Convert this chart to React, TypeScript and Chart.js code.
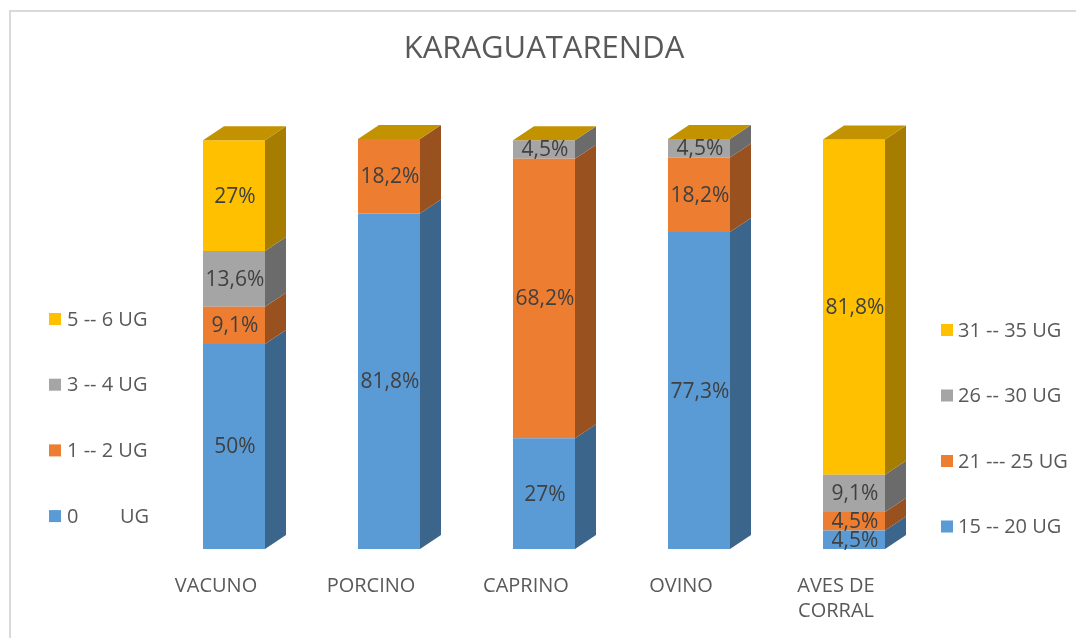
import React, { useEffect, useRef } from "react";
import { Chart, registerables } from "chart.js";

Chart.register(...registerables);

// ---- data ----
const TITLE = "KARAGUATARENDA";
const CATEGORIES: (string | string[])[] = ["VACUNO", "PORCINO", "CAPRINO", "OVINO", ["AVES DE", "CORRAL"]];
const LEFT_LEGEND = ["0        UG", "1 -- 2 UG", "3 -- 4 UG", "5 -- 6 UG"];
const RIGHT_LEGEND = ["15 -- 20 UG", "21 --- 25 UG", "26 -- 30 UG", "31 -- 35 UG"];
const SERIES_1 = [50, 81.8, 27, 77.3, 4.5];
const SERIES_2 = [9.1, 18.2, 68.2, 18.2, 4.5];
const SERIES_3 = [13.6, 0, 4.5, 4.5, 9.1];
const SERIES_4 = [27, 0, 0, 0, 81.8];

// ---- styles ----
const FRONT_COLORS = ["#5B9BD5", "#ED7D31", "#A5A5A5", "#FFC000"];
const SIDE_COLORS = ["#3B658A", "#9A5120", "#6B6B6B", "#A67D00"];
const TOP_COLOR = "#C29200";
const FONT = "'Open Sans', 'DejaVu Sans', sans-serif";

const fmt = (v: number) => String(v).replace(".", ",") + "%";

const depthPlugin = {
  id: "depth3d",
  afterDatasetsDraw(chart: any) {
    const ctx = chart.ctx as CanvasRenderingContext2D;
    const dx = 21;
    const dy = 14;
    const n = chart.data.labels.length;
    const tops: { y: number; l: number; r: number }[] = [];
    for (let i = 0; i < n; i++) tops.push({ y: Infinity, l: 0, r: 0 });
    const metas = chart.getSortedVisibleDatasetMetas();
    ctx.save();
    metas.forEach((meta: any) => {
      const di = meta.index;
      meta.data.forEach((el: any, i: number) => {
        const p = el.getProps(["x", "y", "base", "width"], true);
        const l = p.x - p.width / 2;
        const r = p.x + p.width / 2;
        const top = Math.min(p.y, p.base);
        const bot = Math.max(p.y, p.base);
        if (top < tops[i].y) tops[i] = { y: top, l, r };
        if (bot - top > 0.3) {
          ctx.fillStyle = SIDE_COLORS[di];
          ctx.beginPath();
          ctx.moveTo(r, top);
          ctx.lineTo(r + dx, top - dy);
          ctx.lineTo(r + dx, bot - dy);
          ctx.lineTo(r, bot);
          ctx.closePath();
          ctx.fill();
        }
      });
    });
    tops.forEach((t) => {
      ctx.fillStyle = TOP_COLOR;
      ctx.beginPath();
      ctx.moveTo(t.l, t.y);
      ctx.lineTo(t.l + dx, t.y - dy);
      ctx.lineTo(t.r + dx, t.y - dy);
      ctx.lineTo(t.r, t.y);
      ctx.closePath();
      ctx.fill();
    });
    // data labels
    ctx.font = `21px ${FONT}`;
    ctx.fillStyle = "#404040";
    ctx.textAlign = "center";
    ctx.textBaseline = "middle";
    metas.forEach((meta: any) => {
      const ds = chart.data.datasets[meta.index];
      meta.data.forEach((el: any, i: number) => {
        const v = ds.data[i];
        if (!v) return;
        const p = el.getProps(["x", "y", "base"], true);
        ctx.fillText(fmt(v), p.x + 1, (p.y + p.base) / 2 + 1);
      });
    });
    // legends (two, drawn from the dataset colours)
    ctx.font = `20px ${FONT}`;
    ctx.textAlign = "left";
    const drawLegend = (labels: string[], boxX: number, textX: number, y0: number, step: number) => {
      for (let k = 0; k < labels.length; k++) {
        const idx = labels.length - 1 - k;
        const y = y0 + k * step;
        ctx.fillStyle = FRONT_COLORS[idx];
        ctx.fillRect(boxX, y - 6, 12, 12);
        ctx.fillStyle = "#595959";
        ctx.fillText(labels[idx], textX, y + 1);
      }
    };
    drawLegend(LEFT_LEGEND, 49, 67, 319, 65.7);
    drawLegend(RIGHT_LEGEND, 941, 958, 330, 65.5);
    ctx.restore();
  },
};

export default function App() {
  const ref = useRef<HTMLCanvasElement | null>(null);
  useEffect(() => {
    if (!ref.current) return;
    const series = [SERIES_1, SERIES_2, SERIES_3, SERIES_4];
    const chart = new Chart(ref.current, {
      type: "bar",
      data: {
        labels: CATEGORIES as any,
        datasets: series.map((d, i) => ({
          label: LEFT_LEGEND[i],
          data: d,
          backgroundColor: FRONT_COLORS[i],
          borderWidth: 0,
          barPercentage: 0.4,
          categoryPercentage: 1,
        })),
      },
      options: {
        responsive: false,
        animation: false,
        layout: { padding: { left: 156.5, right: 144.5, top: 0, bottom: 0 } },
        plugins: {
          legend: { display: false },
          tooltip: { enabled: false },
          title: {
            display: true,
            text: TITLE,
            color: "#595959",
            font: { family: FONT, size: 31, weight: "normal" as any, lineHeight: 1.2 },
            padding: { top: 31, bottom: 70.8 },
          },
        },
        scales: {
          x: {
            stacked: true,
            grid: { display: false, drawTicks: false },
            border: { display: false },
            ticks: {
              color: "#595959",
              font: { family: FONT, size: 20, lineHeight: 1.25 },
              padding: 25,
              labelOffset: -18,
              maxRotation: 0,
              autoSkip: false,
            },
            afterFit: (scale: any) => {
              scale.height = 89;
            },
          },
          y: {
            stacked: true,
            display: false,
            min: 0,
            max: 100,
          },
        },
      },
      plugins: [depthPlugin],
    });
    return () => chart.destroy();
  }, []);

  return (
    <div style={{ position: "fixed", left: 0, top: 0, width: 1076, height: 638, background: "#fff", overflow: "hidden" }}>
      <div
        style={{
          position: "absolute",
          left: 9,
          top: 10,
          width: 1100,
          height: 700,
          borderTop: "2px solid #D9D9D9",
          borderLeft: "2px solid #D9D9D9",
        }}
      />
      <canvas ref={ref} width={1076} height={638} style={{ position: "absolute", left: 0, top: 0 }} />
    </div>
  );
}
